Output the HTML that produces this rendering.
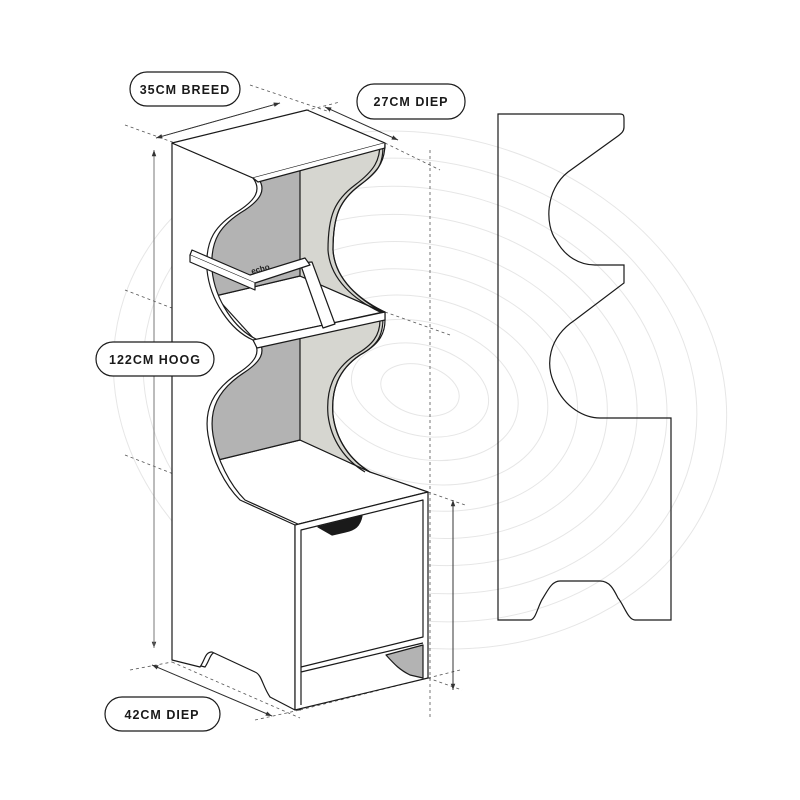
<!DOCTYPE html>
<html><head><meta charset="utf-8"><style>
html,body{margin:0;padding:0;background:#fff}
svg{display:block}
.t{font-family:"Liberation Sans",sans-serif;font-weight:bold;font-size:12.5px;letter-spacing:1px;fill:#1a1a1a}
</style></head><body>
<svg width="800" height="800" viewBox="0 0 800 800" xmlns="http://www.w3.org/2000/svg">
<defs>
<marker id="ar" markerWidth="8" markerHeight="8" refX="7" refY="4" orient="auto"><path d="M0,1.5 L7,4 L0,6.5 Z" fill="#333"/></marker>
<path id="lp" d="M172,143 L253,178 C262,190 255,200 240,210 C215,225 205,240 207,270 C210,300 230,330 253,340 C262,352 255,362 240,372 C212,390 204,410 208,435 C212,460 225,485 240,500 L295,525 L295,710 L270,697 C262,685 262,675 255,672 L212,652 C205,652 205,660 200,667 L172,660 Z"/>
<path id="rw" d="M385,143 C385,160 380,170 360,185 C340,200 333,215 333,250 C335,280 360,300 385,312 L385,320 C385,335 378,345 360,355 C338,370 331,390 333,415 C336,440 350,460 370,472"/>
</defs>
<!-- contour lines -->
<g fill="none" stroke="#e6e6e6" stroke-width="1">
<ellipse cx="420" cy="390" rx="40" ry="25" transform="rotate(15 420 390)"/>
<ellipse cx="420" cy="390" rx="70" ry="45" transform="rotate(15 420 390)"/>
<ellipse cx="420" cy="390" rx="100" ry="68" transform="rotate(15 420 390)"/>
<ellipse cx="420" cy="390" rx="130" ry="92" transform="rotate(15 420 390)"/>
<ellipse cx="420" cy="390" rx="160" ry="118" transform="rotate(15 420 390)"/>
<ellipse cx="420" cy="390" rx="190" ry="145" transform="rotate(15 420 390)"/>
<ellipse cx="420" cy="390" rx="220" ry="172" transform="rotate(15 420 390)"/>
<ellipse cx="420" cy="390" rx="250" ry="200" transform="rotate(15 420 390)"/>
<ellipse cx="420" cy="390" rx="280" ry="228" transform="rotate(15 420 390)"/>
<ellipse cx="420" cy="390" rx="310" ry="255" transform="rotate(15 420 390)"/>
</g>
<!-- dashed guides -->
<g stroke="#555" stroke-width="0.8" stroke-dasharray="3,3" fill="none">
<line x1="125" y1="125" x2="175" y2="143"/>
<line x1="250" y1="85" x2="330" y2="112"/>
<line x1="300" y1="112" x2="340" y2="102"/>
<line x1="385" y1="143" x2="440" y2="170"/>
<line x1="430" y1="150" x2="430" y2="720"/>
<line x1="205" y1="188" x2="260" y2="180"/>
<line x1="257" y1="180" x2="300" y2="195"/>
<line x1="125" y1="290" x2="255" y2="340"/>
<line x1="255" y1="345" x2="300" y2="360"/>
<line x1="385" y1="312" x2="450" y2="335"/>
<line x1="125" y1="455" x2="240" y2="500"/>
<line x1="255" y1="535" x2="300" y2="525"/>
<line x1="320" y1="525" x2="372" y2="555"/>
<line x1="428" y1="492" x2="465" y2="505"/>
<line x1="428" y1="678" x2="462" y2="690"/>
<line x1="300" y1="710" x2="460" y2="670"/>
<line x1="255" y1="720" x2="300" y2="710"/>
<line x1="130" y1="670" x2="172" y2="662"/>
<line x1="172" y1="662" x2="300" y2="718"/>
</g>
<!-- dimension lines -->
<g stroke="#333" stroke-width="0.9" fill="none">
<line x1="156" y1="138" x2="280" y2="103" marker-end="url(#ar)"/>
<line x1="280" y1="103" x2="156" y2="138" marker-end="url(#ar)"/>
<line x1="325" y1="107" x2="398" y2="140" marker-end="url(#ar)"/>
<line x1="398" y1="140" x2="325" y2="107" marker-end="url(#ar)"/>
<line x1="154" y1="150" x2="154" y2="648" marker-end="url(#ar)" stroke="#777"/>
<line x1="154" y1="648" x2="154" y2="150" marker-end="url(#ar)" stroke="#777"/>
<line x1="453" y1="500" x2="453" y2="690" marker-end="url(#ar)"/>
<line x1="453" y1="690" x2="453" y2="500" marker-end="url(#ar)"/>
<line x1="152" y1="665" x2="272" y2="716" marker-end="url(#ar)"/>
<line x1="272" y1="716" x2="152" y2="665" marker-end="url(#ar)"/>
</g>
<!-- furniture -->
<g stroke="#1a1a1a" stroke-width="1.2" stroke-linejoin="round">
<path d="M215,296 L300,276 L383,312 L255,340 Z" fill="#fff"/>
<path d="M218,460 L300,440 L370,472 L428,492 L295,525 L240,500 Z" fill="#fff"/>
<path d="M200,190 L300,165 L300,276 L215,296 L200,300 Z" fill="#b3b3b3" stroke="none"/>
<path d="M200,358 L300,334 L300,440 L218,460 L200,464 Z" fill="#b3b3b3" stroke="none"/>
<path d="M300,165 L383,146 C383,165 378,172 360,185 C340,200 333,215 333,250 C335,280 360,300 383,312 L300,276 Z" fill="#d6d6d0"/>
<path d="M300,334 L383,318 C383,335 378,345 360,355 C338,370 331,390 333,415 C336,440 350,460 370,472 L300,440 Z" fill="#d6d6d0"/>
<line x1="215" y1="296" x2="300" y2="276"/>
<line x1="218" y1="460" x2="300" y2="440"/>
<!-- right edge thickness -->
<use href="#rw" transform="translate(-5,0)" fill="none"/>
<path d="M380,146 L385,143 M380,312 L385,312" fill="none"/>
<!-- left panel with thickness -->
<use href="#lp" transform="translate(5,0)" fill="#fff"/>
<use href="#lp" fill="#fff"/>
<!-- top -->
<path d="M172,143 L307,110 L385,143 L253,178 Z" fill="#fff"/>
<path d="M253,178 L258,182 L385,148 L385,143" fill="#fff"/>
<use href="#rw" fill="none"/>
<!-- shelf front -->
<path d="M253,340 L385,312 L385,320 L257,348 Z" fill="#fff"/>
<!-- tablet holder -->
<path d="M300,263 L323,328 L335,324 L312,262 Z" fill="#fff"/>
<path d="M190,255 L255,283 L310,265 L305,258 L250,275 L192,250 Z" fill="#fff"/>
<path d="M190,255 L190,262 L255,290 L255,283" fill="#fff"/>
<!-- cabinet front -->
<path d="M295,525 L428,492 L428,678 L295,710 Z" fill="#fff"/>
<path d="M301,530 L423,500 L423,637 L301,667 Z" fill="none"/>
<path d="M301,672 L423,643 M301,667 L301,705" fill="none"/>
<path d="M386,655 L423,645 L423,678 L410,675 C400,670 395,665 386,655Z" fill="#b3b3b3"/>
<path d="M318,527 L362,516 C360,526 355,530 345,532 L332,535 Z" fill="#1a1a1a"/>
</g>
<text x="252" y="274" font-family="Liberation Sans,sans-serif" font-size="8" font-weight="bold" fill="#222" transform="rotate(-15 252 274)">echo</text>
<!-- side profile -->
<path d="M498,114 L620,114 C624,114 624,116 624,120 L624,127 C624,131 622,133 618,136 L568,172 C545,190 545,225 556,240 C565,257 580,265 595,265 L624,265 L624,283 L575,320 C548,338 545,365 555,385 C565,408 585,418 600,418 L671,418 L671,620 L635,620 C628,620 624,605 618,598 C614,590 610,581 600,581 L560,581 C552,581 548,590 543,598 C538,605 536,620 530,620 L498,620 Z" fill="none" stroke="#1a1a1a" stroke-width="1.2"/>
<!-- labels -->
<g fill="#fff" stroke="#1a1a1a" stroke-width="1.2">
<rect x="130" y="72" width="110" height="34" rx="17"/>
<rect x="357" y="84" width="108" height="35" rx="17"/>
<rect x="96" y="342" width="118" height="34" rx="17"/>
<rect x="105" y="697" width="115" height="34" rx="17"/>
</g>
<text class="t" x="185" y="94" text-anchor="middle">35CM BREED</text>
<text class="t" x="411" y="106" text-anchor="middle">27CM DIEP</text>
<text class="t" x="155" y="364" text-anchor="middle">122CM HOOG</text>
<text class="t" x="162" y="719" text-anchor="middle">42CM DIEP</text>
</svg>
</body></html>
